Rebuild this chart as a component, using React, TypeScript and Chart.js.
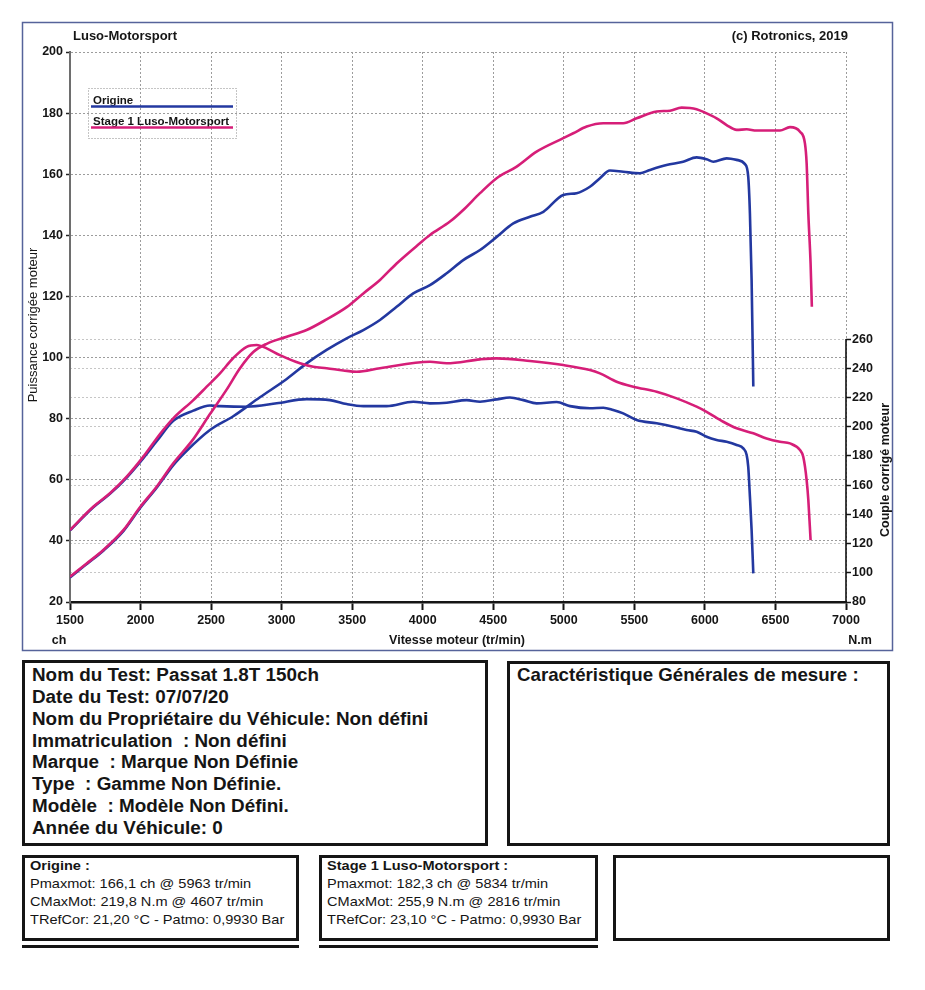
import React, { useEffect, useRef } from 'react';
import { Chart, registerables } from 'chart.js';

Chart.register(...registerables);

const FONT = '"Liberation Sans", Arial, Helvetica, sans-serif';

// ---- axes ----
const RPM_MIN = 1500;
const RPM_MAX = 7000;
const RPM_STEP = 500;
const POWER_MIN = 20;
const POWER_MAX = 200;
const POWER_STEP = 20;
const TORQUE_MIN = 80;
const TORQUE_AXIS_MAX = 456.5;
const TORQUE_TICK_MAX = 260;
const TORQUE_STEP = 20;

// ---- texts ----
const headerLeft = 'Luso-Motorsport';
const headerRight = '(c) Rotronics, 2019';
const powerAxisTitle = 'Puissance corrigée moteur';
const torqueAxisTitle = 'Couple corrigé moteur';
const rpmAxisTitle = 'Vitesse moteur (tr/min)';
const powerUnit = 'ch';
const torqueUnit = 'N.m';

const seriesNames = ['Origine', 'Stage 1 Luso-Motorsport'];
const seriesColors = ['#2338a0', '#d61e78'];

// ---- Stage 1 ----
const stage1PowerRpm = [1500, 1618, 1736, 1878, 1996, 2114, 2232, 2374, 2492, 2610, 2705, 2799, 2894, 3036, 3177, 3319, 3461, 3579, 3697, 3815, 3980, 4051, 4193, 4287, 4406, 4524, 4666, 4807, 4996, 5067, 5162, 5280, 5421, 5516, 5658, 5752, 5835, 5941, 6012, 6083, 6154, 6225, 6296, 6366, 6532, 6603, 6674, 6709, 6721, 6733, 6749, 6758];
const stage1Power = [28.3, 32.6, 37.0, 43.5, 51.0, 57.7, 65.4, 73.3, 81.5, 89.5, 96.5, 101.8, 104.5, 106.8, 109.0, 112.5, 116.5, 121.0, 125.4, 130.8, 137.4, 140.1, 144.5, 148.3, 153.8, 158.7, 162.5, 167.4, 171.8, 173.4, 175.6, 176.7, 176.7, 178.3, 180.5, 180.8, 181.8, 181.3, 179.9, 178.3, 176.1, 174.5, 174.7, 174.3, 174.3, 175.4, 173.9, 170.1, 163.6, 147.2, 130.8, 116.6];

const stage1TorqueRpm = [1500, 1665, 1783, 1902, 2020, 2138, 2232, 2374, 2469, 2563, 2657, 2752, 2823, 2894, 2988, 3130, 3224, 3319, 3437, 3532, 3697, 4051, 4170, 4406, 4524, 4760, 4996, 5185, 5256, 5374, 5492, 5658, 5800, 5941, 6012, 6130, 6225, 6343, 6437, 6532, 6603, 6674, 6697, 6721, 6733, 6749];
const stage1Torque = [129.3, 145.2, 154.4, 165.8, 179.5, 195.0, 205.7, 218.2, 227.4, 236.5, 247.0, 254.7, 255.9, 253.6, 249.0, 243.4, 241.0, 240.0, 238.5, 237.6, 240.0, 244.5, 243.4, 246.1, 246.8, 245.0, 242.2, 238.8, 236.5, 230.8, 227.4, 223.9, 219.4, 213.7, 210.2, 203.4, 198.9, 195.5, 192.0, 189.7, 188.6, 184.0, 179.4, 163.5, 149.8, 122.4];

// ---- Origine ----
const originePowerRpm = [1500, 1618, 1736, 1878, 1996, 2114, 2232, 2327, 2492, 2657, 2846, 3036, 3177, 3319, 3461, 3579, 3697, 3815, 3933, 4051, 4170, 4287, 4406, 4524, 4642, 4760, 4855, 4996, 5091, 5185, 5256, 5327, 5421, 5539, 5610, 5728, 5846, 5941, 6012, 6060, 6154, 6225, 6284, 6307, 6319, 6331, 6343];
const originePower = [28.0, 32.4, 36.8, 43.2, 50.7, 57.4, 64.8, 69.5, 76.3, 80.8, 87.0, 93.0, 98.1, 102.5, 106.3, 109.0, 112.3, 116.6, 121.0, 123.7, 127.6, 131.9, 135.2, 139.5, 143.9, 146.1, 147.7, 153.2, 153.8, 155.9, 158.7, 161.2, 160.8, 160.3, 161.4, 163.0, 164.1, 165.5, 164.9, 164.1, 165.2, 164.7, 163.3, 159.2, 147.2, 125.4, 90.5];

const origineTorqueRpm = [1500, 1665, 1783, 1902, 2020, 2114, 2232, 2374, 2492, 2563, 2752, 2965, 3177, 3343, 3461, 3579, 3744, 3933, 4051, 4170, 4311, 4406, 4524, 4618, 4713, 4807, 4949, 5044, 5185, 5280, 5350, 5421, 5516, 5658, 5776, 5870, 5941, 6012, 6083, 6154, 6225, 6272, 6296, 6307, 6319, 6331, 6343];
const origineTorque = [129.0, 144.8, 154.0, 165.2, 178.5, 190.0, 204.0, 211.0, 214.5, 214.1, 213.7, 216.0, 218.9, 218.2, 215.5, 214.1, 214.1, 217.1, 216.0, 216.4, 218.2, 217.1, 218.7, 220.0, 218.2, 216.0, 216.9, 214.1, 212.6, 213.0, 211.4, 209.1, 204.6, 202.3, 200.0, 197.7, 196.6, 193.1, 190.9, 189.7, 187.5, 185.2, 180.6, 172.6, 152.1, 129.3, 99.6];

// ---- info boxes ----
const testInfoLines = [
  'Nom du Test: Passat 1.8T 150ch',
  'Date du Test: 07/07/20',
  'Nom du Propriétaire du Véhicule: Non défini',
  'Immatriculation  : Non défini',
  'Marque  : Marque Non Définie',
  'Type  : Gamme Non Définie.',
  'Modèle  : Modèle Non Défini.',
  'Année du Véhicule: 0',
];
const measureTitle = 'Caractéristique Générales de mesure :';
const origineSummary = [
  'Origine :',
  'Pmaxmot: 166,1 ch @ 5963 tr/min',
  'CMaxMot: 219,8 N.m @ 4607 tr/min',
  'TRefCor: 21,20 °C - Patmo: 0,9930 Bar',
];
const stage1Summary = [
  'Stage 1 Luso-Motorsport :',
  'Pmaxmot: 182,3 ch @ 5834 tr/min',
  'CMaxMot: 255,9 N.m @ 2816 tr/min',
  'TRefCor: 23,10 °C - Patmo: 0,9930 Bar',
];

const toPoints = (xs: number[], ys: number[]) => xs.map((x, i) => ({ x, y: ys[i] }));

const overlayPlugin = {
  id: 'dynoOverlay',
  afterDraw(chart: any) {
    const { ctx, chartArea, scales } = chart;
    const y1 = scales.y1;
    ctx.save();
    // outer frame
    ctx.strokeStyle = '#56639a';
    ctx.lineWidth = 1.5;
    ctx.strokeRect(22.5, 22.5, 870, 628);

    // right torque axis line (only along labelled range)
    ctx.strokeStyle = '#111';
    ctx.lineWidth = 1.6;
    ctx.beginPath();
    ctx.moveTo(chartArea.right, y1.getPixelForValue(TORQUE_TICK_MAX));
    ctx.lineTo(chartArea.right, y1.getPixelForValue(TORQUE_MIN));
    ctx.stroke();

    ctx.fillStyle = '#151515';
    // header
    ctx.font = `bold 13px ${FONT}`;
    ctx.textBaseline = 'alphabetic';
    ctx.textAlign = 'left';
    ctx.fillText(headerLeft, 73, 39.5);
    ctx.textAlign = 'right';
    ctx.fillText(headerRight, 848, 39.5);

    // bottom texts
    ctx.font = `bold 12.5px ${FONT}`;
    ctx.textAlign = 'center';
    ctx.fillText(rpmAxisTitle, 457, 644);
    ctx.fillText(powerUnit, 59, 644);
    ctx.fillText(torqueUnit, 860, 644);

    // left axis title
    ctx.save();
    ctx.translate(33, 325);
    ctx.rotate(-Math.PI / 2);
    ctx.font = `13px ${FONT}`;
    ctx.textAlign = 'center';
    ctx.textBaseline = 'middle';
    ctx.fillText(powerAxisTitle, 0, 0);
    ctx.restore();

    // right axis title
    ctx.save();
    ctx.translate(885.5, 470);
    ctx.rotate(-Math.PI / 2);
    ctx.font = `bold 12.5px ${FONT}`;
    ctx.textAlign = 'center';
    ctx.textBaseline = 'middle';
    ctx.fillText(torqueAxisTitle, 0, 0);
    ctx.restore();

    // legend box
    ctx.setLineDash([1, 2]);
    ctx.strokeStyle = '#8a8a8a';
    ctx.lineWidth = 1;
    ctx.strokeRect(88.5, 88.5, 148, 50);
    ctx.setLineDash([]);
    ctx.font = `bold 11.5px ${FONT}`;
    ctx.textAlign = 'left';
    ctx.textBaseline = 'alphabetic';
    const rows = [
      { y: 104, ly: 106.5 },
      { y: 124.5, ly: 127.5 },
    ];
    rows.forEach((r, i) => {
      ctx.fillStyle = '#151515';
      ctx.fillText(seriesNames[i], 93, r.y);
      ctx.strokeStyle = seriesColors[i];
      ctx.lineWidth = 2.5;
      ctx.beginPath();
      ctx.moveTo(91, r.ly);
      ctx.lineTo(233, r.ly);
      ctx.stroke();
    });
    ctx.restore();
  },
};

const lineStyle = (color: string) => ({
  borderColor: color,
  backgroundColor: color,
  borderWidth: 2.6,
  pointRadius: 0,
  pointHoverRadius: 0,
  fill: false,
  cubicInterpolationMode: 'monotone' as const,
});

const tickFont = { family: FONT, size: 12.5, weight: 'bold' as const };

function Text({ x, y, size, bold, sx = 1, children }: any) {
  return (
    <div
      style={{
        position: 'absolute',
        left: x,
        top: y - 0.49 * size,
        fontSize: size,
        lineHeight: `${size}px`,
        fontWeight: bold ? 700 : 400,
        whiteSpace: 'pre',
        transform: `scaleX(${sx})`,
        transformOrigin: 'left center',
        color: '#151515',
        fontFamily: FONT,
      }}
    >
      {children}
    </div>
  );
}

function Box({ left, top, width, height }: any) {
  return (
    <div
      style={{
        position: 'absolute',
        left,
        top,
        width,
        height,
        border: '3px solid #151515',
        boxSizing: 'border-box',
      }}
    />
  );
}

export default function App() {
  const canvasRef = useRef<HTMLCanvasElement>(null);

  useEffect(() => {
    const canvas = canvasRef.current;
    if (!canvas) return;
    const chart = new Chart(canvas, {
      type: 'line',
      data: {
        datasets: [
          { label: seriesNames[1] + ' P', data: toPoints(stage1PowerRpm, stage1Power), yAxisID: 'y', ...lineStyle(seriesColors[1]) },
          { label: seriesNames[1] + ' C', data: toPoints(stage1TorqueRpm, stage1Torque), yAxisID: 'y1', ...lineStyle(seriesColors[1]) },
          { label: seriesNames[0] + ' P', data: toPoints(originePowerRpm, originePower), yAxisID: 'y', ...lineStyle(seriesColors[0]) },
          { label: seriesNames[0] + ' C', data: toPoints(origineTorqueRpm, origineTorque), yAxisID: 'y1', ...lineStyle(seriesColors[0]) },
        ],
      },
      options: {
        animation: false,
        responsive: false,
        devicePixelRatio: 1,
        events: [],
        layout: { padding: { top: 52, left: 0, right: 0, bottom: 0 } },
        plugins: { legend: { display: false }, tooltip: { enabled: false }, title: { display: false } },
        scales: {
          x: {
            type: 'linear',
            min: RPM_MIN,
            max: RPM_MAX,
            ticks: {
              stepSize: RPM_STEP,
              autoSkip: false,
              maxRotation: 0,
              minRotation: 0,
              padding: 3,
              color: '#151515',
              font: tickFont,
              callback: (v: any) => String(v),
            },
            grid: { color: '#9c9c9c', lineWidth: 1, tickColor: '#151515', tickLength: 8, tickWidth: 2 },
            border: { color: '#151515', width: 2.5, dash: [2, 2] },
            afterFit: (s: any) => { s.height = 58; },
          },
          y: {
            type: 'linear',
            position: 'left',
            min: POWER_MIN,
            max: POWER_MAX,
            ticks: { stepSize: POWER_STEP, padding: 3, color: '#151515', font: tickFont },
            grid: { color: '#9c9c9c', lineWidth: 1, tickColor: '#222', tickLength: 4, tickWidth: 1.5 },
            border: { color: '#6e6e6e', width: 2, dash: [2, 2] },
            afterFit: (s: any) => { s.width = 70; },
          },
          y1: {
            type: 'linear',
            position: 'right',
            min: TORQUE_MIN,
            max: TORQUE_AXIS_MAX,
            ticks: { stepSize: TORQUE_STEP, padding: 1, color: '#151515', font: tickFont },
            afterBuildTicks: (s: any) => { s.ticks = s.ticks.filter((t: any) => t.value <= TORQUE_TICK_MAX); },
            grid: { color: '#c6c6c6', lineWidth: 1, tickColor: '#151515', tickLength: 5, tickWidth: 1.5 },
            border: { display: false, dash: [2, 2] },
            afterFit: (s: any) => { s.width = 79; },
          },
        },
      } as any,
      plugins: [overlayPlugin],
    });
    return () => chart.destroy();
  }, []);

  return (
    <div style={{ position: 'absolute', left: 0, top: 0, width: 925, height: 990, background: '#fff', overflow: 'hidden' }}>
      <canvas ref={canvasRef} width={925} height={660} style={{ position: 'absolute', left: 0, top: 0, width: 925, height: 660 }} />

      <Box left={22} top={660} width={466} height={186} />
      {testInfoLines.map((t, i) => (
        <Text key={'ti' + i} x={32} y={675 + i * 21.8} size={18} bold sx={1.048}>{t}</Text>
      ))}

      <Box left={507} top={661} width={383} height={185} />
      <Text x={517} y={675} size={18.5} bold sx={1.01}>{measureTitle}</Text>

      <Box left={22} top={855} width={277} height={86} />
      {origineSummary.map((t, i) => (
        <Text key={'os' + i} x={30} y={865 + i * 18} size={13} bold={i === 0} sx={1.12}>{t}</Text>
      ))}
      <div style={{ position: 'absolute', left: 22, top: 945, width: 277, height: 3, background: '#151515' }} />

      <Box left={319} top={855} width={279} height={86} />
      {stage1Summary.map((t, i) => (
        <Text key={'ss' + i} x={327} y={865 + i * 18} size={13} bold={i === 0} sx={1.12}>{t}</Text>
      ))}
      <div style={{ position: 'absolute', left: 319, top: 945, width: 279, height: 3, background: '#151515' }} />

      <Box left={613} top={855} width={277} height={86} />
    </div>
  );
}
